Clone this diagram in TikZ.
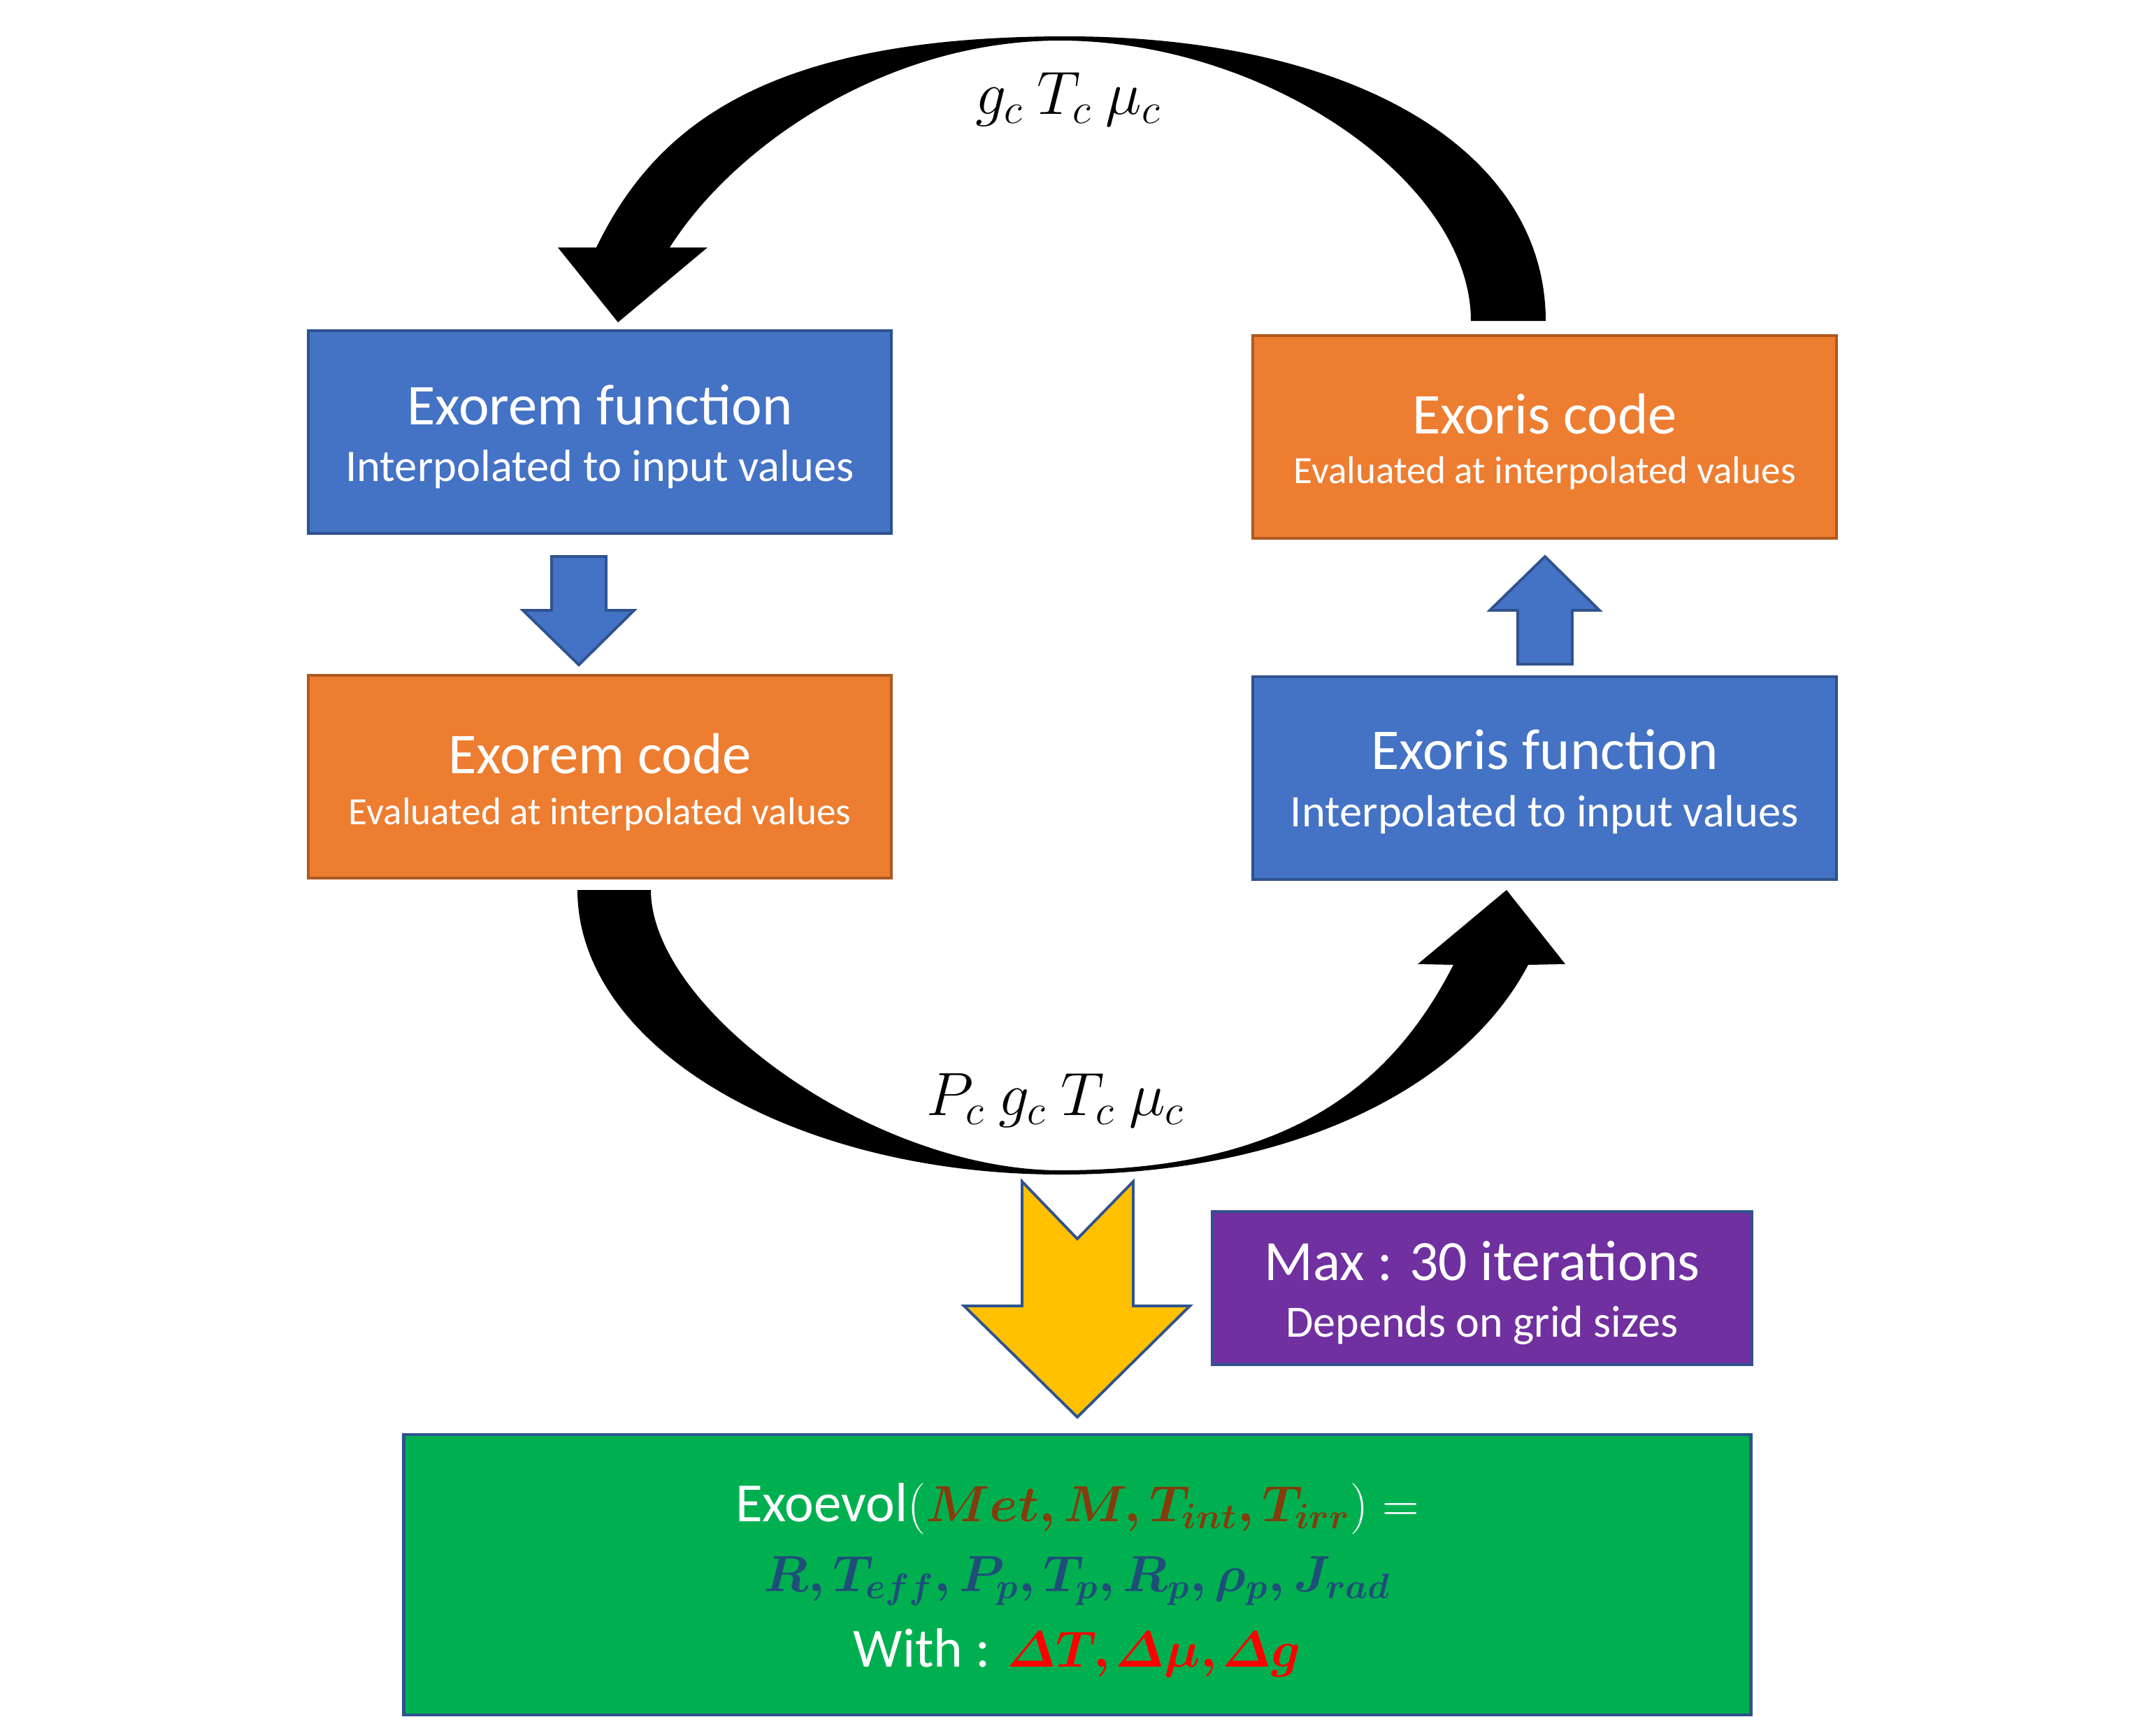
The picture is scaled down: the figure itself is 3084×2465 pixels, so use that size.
\documentclass[tikz,border=0pt]{standalone}
\usepackage{amsmath,bm}
\usepackage[no-math]{fontspec}
\setmainfont{Carlito}
\definecolor{boxblue}{HTML}{4472C4}
\definecolor{edgeblue}{HTML}{2F528F}
\definecolor{boxorange}{HTML}{ED7D31}
\definecolor{edgeorange}{HTML}{AE5A21}
\definecolor{boxpurple}{HTML}{7030A0}
\definecolor{boxgreen}{HTML}{00B050}
\definecolor{arrowyellow}{HTML}{FFC000}
\definecolor{txtbrown}{HTML}{843C0C}
\definecolor{txtblue}{HTML}{1F4E79}
\definecolor{txtred}{HTML}{FF0000}
\begin{document}
\begin{tikzpicture}[x=0.01cm,y=-0.01cm,
  boxshape/.style={draw, line width=1.2pt, inner sep=0pt},
  bluebox/.style={boxshape, fill=boxblue, draw=edgeblue, minimum width=8.34cm, minimum height=2.90cm},
  orangebox/.style={boxshape, fill=boxorange, draw=edgeorange, minimum width=8.34cm, minimum height=2.90cm},
  txt/.style={anchor=base, inner sep=0pt, text=white},
  titletxt/.style={txt, font=\fontsize{23.5}{28}\selectfont},
  subtxt/.style={txt, font=\fontsize{18.35}{22}\selectfont},
  smalltxt/.style={txt, font=\fontsize{15.7}{19}\selectfont},
  blockarrow/.style={fill=boxblue, draw=edgeblue, line width=1.1pt, line join=miter},
  mathlbl/.style={anchor=base, inner sep=0pt, font=\fontsize{25.5}{30}\selectfont}
]
\useasboundingbox (0,0) rectangle (3084,2465);

% boxes
\node[bluebox] (exfun) at (858,618) {};
\node[titletxt] (exfunT) at (858,607) {Exorem function};
\node[subtxt] (exfunS) at (858,688) {Interpolated to input values};

\node[orangebox] (excode) at (858,1111) {};
\node[titletxt] (excodeT) at (858,1106) {Exorem code};
\node[smalltxt] (excodeS) at (858,1179) {Evaluated at interpolated values};

\node[orangebox] (oricode) at (2209.5,625) {};
\node[titletxt] (oricodeT) at (2209.5,620) {Exoris code};
\node[smalltxt] (oricodeS) at (2209.5,691) {Evaluated at interpolated values};

\node[bluebox] (orifun) at (2209.5,1113) {};
\node[titletxt] (orifunT) at (2209.5,1100) {Exoris function};
\node[subtxt] (orifunS) at (2209.5,1182) {Interpolated to input values};

\node[boxshape, fill=boxpurple, draw=edgeblue, minimum width=7.72cm, minimum height=2.19cm] (maxbox) at (2120,1842.5) {};
\node[txt, font=\fontsize{23.2}{27}\selectfont] (maxT) at (2120,1831) {Max : 30 iterations};
\node[txt, font=\fontsize{18.2}{22}\selectfont] (maxS) at (2120,1912) {Depends on grid sizes};

\node[boxshape, fill=boxgreen, draw=edgeblue, minimum width=19.26cm, minimum height=4.01cm] (evol) at (1541,2252.5) {};
\node[txt, font=\fontsize{22.5}{27}\selectfont] (evol1) at (1541,2176)
  {Exoevol$\color{white}(\color{txtbrown}\bm{Met, M, T_{int}, T_{irr}}\color{white}) =$};
\node[txt, font=\fontsize{22.5}{27}\selectfont] (evol2) at (1541,2276)
  {$\color{txtblue}\bm{R, T_{eff}, P_p, T_p, R_p, \rho_p, J_{rad}}$};
\node[txt, font=\fontsize{22.5}{27}\selectfont] (evol3) at (1541,2384)
  {With : $\color{txtred}\bm{\varDelta T\mkern-1mu{,}\mkern2mu\varDelta\mu{,}\mkern2mu\varDelta g}$};

% small block arrows
\draw[blockarrow] (789,796) -- (867,796) -- (867,873) -- (907,873) -- (828,951) -- (748,873) -- (789,873) -- cycle;
\draw[blockarrow] (2210,796) -- (2288,873) -- (2249,873) -- (2249,950) -- (2171,950) -- (2171,873) -- (2131,873) -- cycle;

% yellow notched arrow
\draw[fill=arrowyellow, draw=edgeblue, line width=1.1pt, line join=miter]
  (1462,1690) -- (1541,1772) -- (1621,1690) -- (1621,1868) -- (1702,1868) -- (1541,2027) -- (1379,1868) -- (1462,1868) -- cycle;

% top curved arrow (Exoris code -> Exorem function)
\fill[black] (798,354) -- (853,354) .. controls (940,174) and (1105,52) .. (1525,52)
  .. controls (1937,52) and (2211,215) .. (2211,459) -- (2104,459)
  .. controls (2104,259) and (1810,58) .. (1516,58)
  .. controls (1266,58) and (1049,210) .. (958,354) -- (1012,354) -- (884,461) -- cycle;

% bottom curved arrow (Exorem code -> Exoris function)
\fill[black] (826,1273) .. controls (826,1498) and (1136,1680) .. (1517,1680)
  .. controls (1847,1680) and (2093,1557) .. (2186,1380) -- (2239,1379) -- (2155,1273) -- (2028,1379) -- (2079,1380)
  .. controls (1988,1558) and (1837,1674) .. (1517,1674)
  .. controls (1247,1674) and (931,1443) .. (931,1273) -- cycle;

% labels
\node[mathlbl] (toplbl) at (1528,163) {$g_c\ T_c\ \mu_c$};
\node[mathlbl] (botlbl) at (1510,1595) {$P_c\ g_c\ T_c\ \mu_c$};
\end{tikzpicture}
\end{document}
